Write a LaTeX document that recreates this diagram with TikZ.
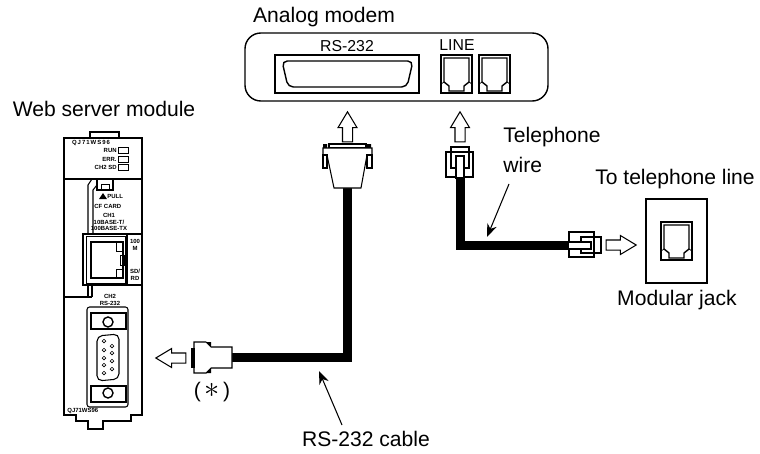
\documentclass[tikz,border=0pt]{standalone}
\usepackage{fontspec}
\setmainfont{Liberation Sans}
\usetikzlibrary{shapes.arrows, arrows.meta}
\tikzset{
  >={Stealth[length=2.6mm, width=2mm]},
  wire/.style ={line width=0.6pt},
  thin wire/.style ={line width=0.4pt},
  cable/.style={line width=0.18cm, line join=miter},
  leader/.style={line width=0.6pt, ->},
  caption/.style={font=\fontsize{12}{14}\selectfont, inner sep=0pt},
  portname/.style={font=\fontsize{9}{10}\selectfont, inner sep=0pt},
  modlabel/.style={font=\fontsize{3.4}{3.8}\selectfont\bfseries, inner sep=0pt, align=center},
  blockarrow/.style={single arrow, draw, line width=0.6pt, fill=white, inner xsep=0pt, inner ysep=0.09cm,
                single arrow tip angle=62, single arrow head extend=0.09cm,
                minimum height=0.6cm},
  pin/.style  ={circle, draw, line width=0.4pt, minimum size=2pt, inner sep=0pt},
  screw/.style={circle, draw, line width=0.8pt, minimum size=0.2cm, inner sep=0pt},
  jackface/.pic={
    \draw[wire] (0,0) rectangle (31,38);
    \draw[line width=0.8pt] (3,3) -- (28,3) -- (28,27) -- (23,31) -- (23,36) -- (8,36) -- (8,31) -- (3,27) -- cycle;
    \draw[thin wire] (0,29) -- (3,27) (31,29) -- (28,27);
  },
}

\begin{document}
\begin{tikzpicture}[x=0.02cm, y=-0.02cm]
  \useasboundingbox (0,0) rectangle (760,453);
  % --- web server module ------------------------------------------------
  \node[caption] (modname) at (104,109) {Web server module};
  \draw[wire] (90,138) -- (90,132) -- (119,132) -- (119,138);
  \draw[wire] (64,179) -- (64,138) -- (142,138) -- (142,415) -- (131,415) -- (131,421) -- (103,421)
     -- (103,429) -- (88,429) -- (88,421) -- (76,421) -- (76,415) -- (64,415) -- cycle;
  \draw[wire] (64,179) -- (142,179);
  \draw[line width=1pt] (64,373) -- (64,402) (142,373) -- (142,402);
  \node[modlabel] (topname) at (91,143) {Q\,J\,7\,1\,W\,S\,9\,6};
  \foreach \y/\t in {150/RUN, 159/ERR., 167/CH2 SD/RD} {
    \node[modlabel, anchor=east] at (117,\y) {\t};
    \draw[thin wire] (118,\y-3) rectangle (128,\y+3);
  }
  % card slot
  \draw[wire] (88,234) -- (88,185) -- (92,179) (93,234) -- (93,190) -- (97,185);
  \draw[wire] (97,179) rectangle (113,190);
  \draw[thin wire] (101,184) rectangle (109,190);
  \fill (99,199) -- (103,193) -- (107,199) -- cycle;
  \node[modlabel, anchor=west] (pull) at (107,196) {PULL};
  \node[modlabel, anchor=west] (cfcard) at (94,206) {CF CARD};
  \node[modlabel] (chone) at (109,222) {CH1\\10BASE-T/\\100BASE-TX};
  % ethernet port
  \draw[wire] (83,234) -- (142,234);
  \draw[wire] (83,234) rectangle (127,285);
  \draw[thin wire] (86,236) rectangle (125,283);
  \draw[wire] (91,242) rectangle (123,278);
  \draw[thin wire] (116,242) rectangle (122,251);
  \draw[thin wire] (120,255) rectangle (124,265);
  \draw[thin wire] (116,269) rectangle (122,278);
  \node[modlabel] (speed) at (135,245) {100\\M};
  \node[modlabel] (sdrd) at (135,275) {SD/\\RD};
  \draw[wire] (127,285) -- (142,285);
  \draw[wire] (88,285) -- (88,297) (92,285) -- (92,297) (64,297) -- (92,297);
  % serial port
  \node[modlabel] (chtwo) at (110,300) {CH2\\RS-232};
  \draw[wire, rounded corners=1.5pt] (87,307) rectangle (128,407);
  \draw[wire] (91,313) rectangle (126,329);
  \draw[wire] (91,386) rectangle (126,402);
  \node[screw] (screwa) at (108,322) {};
  \node[screw] (screwb) at (108,393) {};
  \draw[wire, rounded corners=3pt] (97,336) -- (119,334) -- (119,379) -- (97,381) -- cycle;
  \foreach \y in {341,350,358,365,373} \node[pin] at (104,\y) {};
  \foreach \y in {346,353,361,369} \node[pin] at (112,\y) {};
  \node[modlabel, anchor=west] (botname) at (67,411) {QJ71WS96};

  % --- analog modem -----------------------------------------------------
  \node[caption] (modemname) at (324,17) {Analog modem};
  \draw[line width=0.8pt, rounded corners=9pt] (245,33) rectangle (548,101);
  \node[portname] (rsname) at (347,46) {RS-232};
  \node[portname] (linename) at (457,45) {LINE};
  \draw[wire] (275,55) rectangle (419,93);
  \draw[line width=0.8pt, rounded corners=3pt] (282,61) -- (413,61) -- (407,87) -- (288,87) -- cycle;
  \pic (jacka) at (441,55) {jackface};
  \pic (jackb) at (479,55) {jackface};

  % --- RS-232 cable -----------------------------------------------------
  \coordinate (dsubtop) at (347.5,185);
  \coordinate (dsubleft) at (230,357.5);
  \draw[cable] (dsubtop) |- (dsubleft);
  \node[blockarrow, rotate=90] (arrowa) at (347.5,131) {};
  \fill (323,144) rectangle (327,148) (367,144) rectangle (371,148);
  \draw[wire, fill=white] (329,144) rectangle (366,148);
  \draw[wire, fill=white] (323,148) -- (372,148) -- (372,155) -- (367,155) -- (361,188) -- (334,188) -- (327,155) -- (323,155) -- cycle;
  \draw[wire, fill=white] (323,155) rectangle (327,168) (367,155) rectangle (372,168);
  \node[blockarrow, rotate=180] (arrowb) at (175,358) {};
  \draw[wire, fill=white] (194,342) -- (206,342) -- (211,347) -- (232,347) -- (232,368) -- (211,368) -- (206,373) -- (194,373) -- cycle;
  \draw[wire, fill=white] (192,349) rectangle (194,367);
  \fill (206,342) -- (211,342) -- (211,347) -- cycle (206,373) -- (211,373) -- (211,368) -- cycle;
  \node[caption] (star) at (212,392) {(\,{\fontsize{17}{17}\selectfont$\ast$}\,)};
  \node[caption] (rsword) at (366,439) {RS-232 cable};
  \coordinate (rsfoot) at (342,425);
  \coordinate (rstip) at (319,371);
  \draw[leader] (rsfoot) -- (rstip);

  % --- telephone wire ---------------------------------------------------
  \coordinate (plugtop) at (460,176);
  \coordinate (plugright) at (572,245.5);
  \draw[cable] (plugtop) |- (plugright);
  \node[blockarrow, rotate=90] (arrowc) at (460,131) {};
  \draw[wire, fill=white] (451,147) rectangle (469,168);
  \draw[wire] (446,152) rectangle (473,177);
  \draw[wire, fill=white] (456,156) rectangle (464,178);
  \draw[wire] (581,237) rectangle (601,253);
  \draw[wire] (569,232) rectangle (594,257);
  \draw[wire, fill=white] (568,242) rectangle (591,249);
  \node[blockarrow] (arrowd) at (617,245) {};
  \node[caption, anchor=west] (telword) at (503,137) {Telephone};
  \node[caption, anchor=west] (wireword) at (503,165) {wire};
  \coordinate (telfoot) at (509,184);
  \coordinate (teltip) at (487,237);
  \draw[leader] (telfoot) -- (teltip);

  % --- wall jack --------------------------------------------------------
  \node[caption] (toline) at (675,179) {To telephone line};
  \draw[wire] (646,199) rectangle (707,283);
  \pic (jackc) at (661,222) {jackface};
  \node[caption] (jackname) at (677,300) {Modular jack};
\end{tikzpicture}
\end{document}
